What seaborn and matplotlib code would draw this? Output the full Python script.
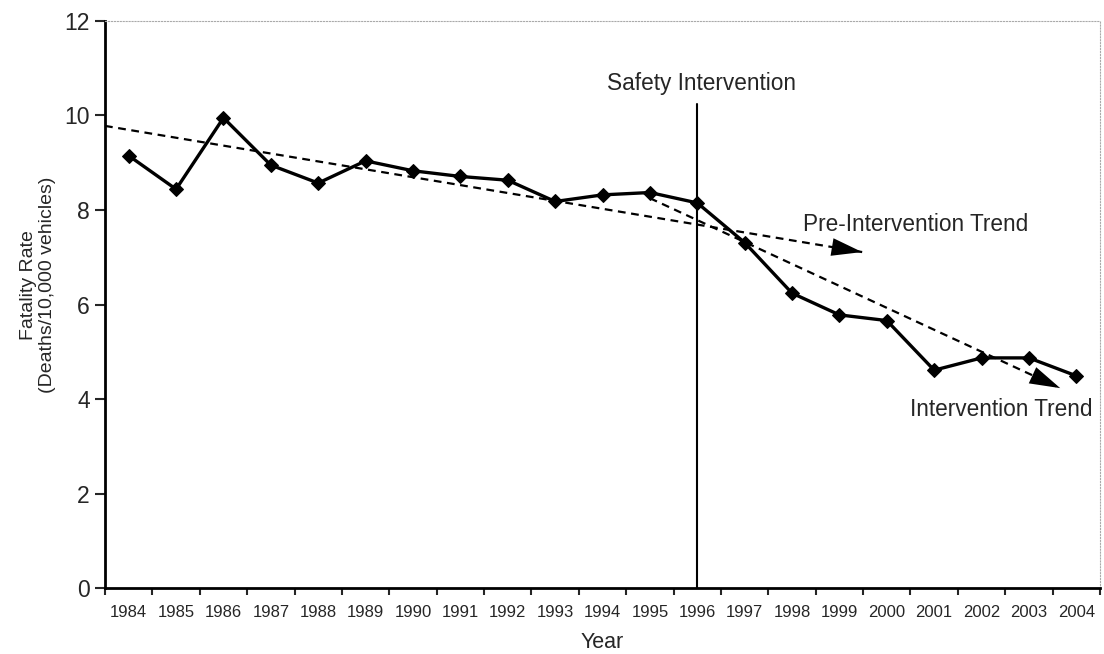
import numpy as np
import pandas as pd
import seaborn as sb
import matplotlib
matplotlib.use("Agg")
import matplotlib.pyplot as plt
from matplotlib.ticker import MultipleLocator

years = list(range(1984, 2005))
fatality_rate = [9.15, 8.44, 9.95, 8.95, 8.57, 9.04, 8.83, 8.71, 8.63, 8.18, 8.32,
                 8.37, 8.15, 7.31, 6.24, 5.78, 5.66, 4.61, 4.87, 4.87, 4.49]

# trend line end points (year, rate)
pre_trend_years = [1983.5, 1999.48]
pre_trend_rates = [9.78, 7.11]
post_trend_years = [1995.0, 2003.66]
post_trend_rates = [8.25, 4.23]

intervention_year = 1996
intervention_top = 10.24

sb.set_style("ticks")
plt.rcParams["font.family"] = ["Liberation Sans", "DejaVu Sans"]

dset = pd.DataFrame({"year": years, "rate": fatality_rate})

fig = plt.figure(figsize=(11.04, 6.54), dpi=100)
ax = fig.add_axes([0.0951, 0.1009, 0.9013, 0.867])

sb.lineplot(data=dset, x="year", y="rate", ax=ax, color="black", lw=2.4,
            marker="D", markersize=7, markeredgecolor="black")


def trend(xs, ys):
    sb.lineplot(x=xs, y=ys, ax=ax, color="black", lw=1.6, dashes=False,
                linestyle=(0, (3.5, 2.5)))
    tail = (xs[0] + 0.93 * (xs[1] - xs[0]), ys[0] + 0.93 * (ys[1] - ys[0]))
    ax.annotate("", xy=(xs[1], ys[1]), xytext=tail,
                arrowprops=dict(arrowstyle="-|>,head_length=1.1,head_width=0.32",
                                color="black", lw=0, mutation_scale=20,
                                shrinkA=0, shrinkB=0))


trend(pre_trend_years, pre_trend_rates)
trend(post_trend_years, post_trend_rates)

ax.plot([intervention_year, intervention_year], [0, intervention_top],
        color="black", lw=1.5)

ax.text(intervention_year + 0.08, 10.67, "Safety Intervention", ha="center",
        va="center", fontsize=16.3)
ax.text(1998.23, 7.7, "Pre-Intervention Trend", ha="left", va="center", fontsize=16.3)
ax.text(2000.49, 3.77, "Intervention Trend", ha="left", va="center", fontsize=16.3)

ax.set_xlim(1983.5, 2004.5)
ax.set_ylim(0, 12)
ax.set_xticks(years)
ax.set_xticklabels([str(y) for y in years])
ax.xaxis.set_minor_locator(MultipleLocator(1, offset=0.5))
ax.tick_params(axis="x", which="major", length=0, labelsize=12, pad=12)
ax.tick_params(axis="x", which="minor", length=5, width=1.5, direction="out")
ax.set_yticks(range(0, 13, 2))
ax.tick_params(axis="y", which="major", length=7, width=1.5, labelsize=16.5, pad=4)

ax.set_xlabel("Year", fontsize=15.5, labelpad=9)
ax.set_ylabel("Fatality Rate\n(Deaths/10,000 vehicles)", fontsize=14)
ax.yaxis.set_label_coords(-0.049, 0.534)

for side in ["left", "bottom"]:
    ax.spines[side].set_linewidth(2)
    ax.spines[side].set_color("black")
for side in ["top", "right"]:
    ax.spines[side].set_visible(True)
    ax.spines[side].set_linewidth(0.8)
    ax.spines[side].set_color("#aaaaaa")
    ax.spines[side].set_linestyle(":")

fig.savefig("out.png", dpi=100)
